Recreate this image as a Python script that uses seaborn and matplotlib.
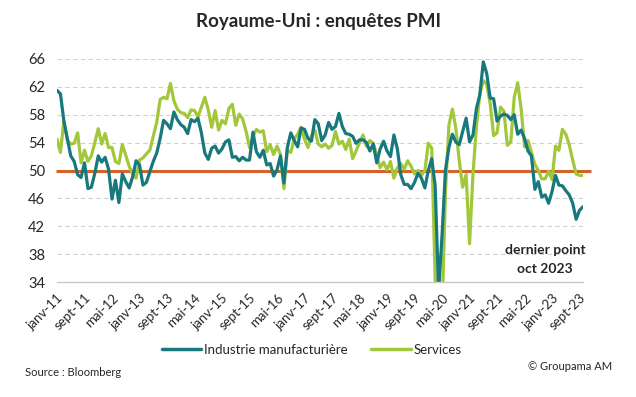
import numpy as np
import pandas as pd
import matplotlib
matplotlib.use("Agg")
import matplotlib.pyplot as plt
import seaborn as sns
from matplotlib.lines import Line2D

# ---- data (monthly, Jan 2011 - Oct 2023) ----
manufacturing = [
    # 2011
    61.5, 61.0, 57.1, 54.6, 52.1, 51.3, 49.4, 49.0, 51.1, 47.4, 47.6, 49.6,
    # 2012
    52.1, 51.2, 51.9, 50.2, 45.9, 48.6, 45.4, 49.5, 48.4, 47.5, 49.1, 51.4,
    # 2013
    50.8, 47.9, 48.3, 49.8, 51.3, 52.5, 54.6, 57.2, 56.7, 56.0, 58.4, 57.3,
    # 2014
    56.6, 56.2, 55.3, 57.3, 57.0, 57.5, 55.4, 52.5, 51.6, 53.2, 53.5, 52.5,
    # 2015
    53.1, 54.1, 54.4, 51.9, 52.0, 51.4, 51.9, 51.5, 51.5, 55.5, 52.7, 51.9,
    # 2016
    52.9, 50.8, 51.0, 49.2, 50.1, 52.1, 48.2, 53.3, 55.4, 54.3, 53.4, 56.1,
    # 2017
    55.9, 54.6, 54.2, 57.3, 56.7, 54.3, 55.1, 56.9, 55.9, 56.3, 58.2, 56.3,
    # 2018
    55.3, 55.2, 54.9, 53.9, 54.4, 54.4, 54.0, 52.8, 53.8, 51.1, 53.1, 54.2,
    # 2019
    52.8, 52.0, 55.1, 53.1, 49.4, 48.0, 48.0, 47.4, 48.3, 49.6, 48.9, 47.5,
    # 2020
    50.0, 51.7, 47.8, 32.6, 40.7, 50.1, 53.3, 55.2, 54.1, 53.7, 55.6, 57.5,
    # 2021
    54.1, 55.1, 58.9, 60.9, 65.6, 63.9, 60.4, 60.3, 57.1, 57.8, 58.1, 57.9,
    # 2022
    57.3, 58.0, 55.2, 55.8, 54.6, 52.8, 52.1, 47.3, 48.4, 46.2, 46.5, 45.3,
    # 2023
    47.0, 49.3, 47.9, 47.8, 47.1, 46.5, 45.3, 43.0, 44.3, 44.8,
]
services = [
    # 2011
    54.5, 52.6, 57.1, 54.3, 53.8, 53.9, 55.4, 51.1, 52.9, 51.3, 52.1, 54.0,
    # 2012
    56.0, 53.8, 55.3, 53.3, 53.3, 51.3, 51.0, 53.7, 52.2, 50.6, 49.5, 48.9,
    # 2013
    51.5, 51.8, 52.4, 52.9, 54.9, 56.9, 60.2, 60.5, 60.3, 62.5, 60.0, 58.8,
    # 2014
    58.3, 58.2, 57.6, 58.7, 58.6, 57.7, 59.1, 60.5, 58.7, 56.2, 58.6, 55.8,
    # 2015
    57.2, 56.7, 58.9, 59.5, 56.5, 58.1, 57.4, 55.6, 53.3, 54.9, 55.9, 55.5,
    # 2016
    55.7, 52.7, 53.7, 52.3, 53.5, 52.3, 47.4, 52.9, 52.6, 54.5, 55.2, 56.2,
    # 2017
    54.5, 53.3, 55.0, 55.8, 53.8, 53.4, 53.8, 53.2, 53.6, 55.6, 53.8, 54.2,
    # 2018
    53.0, 54.5, 51.7, 52.8, 54.0, 55.1, 53.5, 54.3, 53.9, 52.2, 50.4, 51.2,
    # 2019
    50.1, 51.3, 48.9, 50.4, 51.0, 50.2, 51.4, 50.6, 49.5, 50.0, 49.3, 50.0,
    # 2020
    53.9, 53.2, 34.5, 13.4, 29.0, 47.1, 56.5, 58.8, 56.1, 51.4, 47.6, 49.4,
    # 2021
    39.5, 49.5, 56.3, 61.0, 62.9, 62.4, 59.6, 55.0, 55.4, 59.1, 58.5, 53.6,
    # 2022
    54.1, 60.5, 62.6, 58.9, 53.4, 54.3, 52.6, 50.9, 50.0, 48.8, 48.8, 49.9,
    # 2023
    48.7, 53.5, 52.9, 55.9, 55.2, 53.7, 51.5, 49.5, 49.3, 49.3,
]
month_names = ["janv", "févr", "mars", "avr", "mai", "juin",
               "juil", "août", "sept", "oct", "nov", "déc"]
series_names = ["Industrie manufacturière", "Services"]
threshold = 50
y_ticks = [34, 38, 42, 46, 50, 54, 58, 62, 66]

n = len(manufacturing)
idx = np.arange(n)
labels = [f"{month_names[i % 12]}-{11 + i // 12:02d}" for i in idx]

df = pd.DataFrame({
    "t": np.concatenate([idx, idx]),
    "value": manufacturing + services,
    "serie": [series_names[0]] * n + [series_names[1]] * n,
})

sns.set_style("white")
plt.rcParams["font.family"] = ["Lato", "DejaVu Sans"]

teal = "#17797D"
green = "#A2C73B"
red = "#D4622A"
txt = "#262626"

fig = plt.figure(figsize=(6.36, 3.97), dpi=100)
ax = fig.add_axes([57 / 636, 1 - 282 / 397, (583 - 57) / 636, (282 - 59) / 397])

for yv in y_ticks[1:]:
    ax.axhline(yv, color="#D0D0D0", lw=0.8, ls=(0, (4, 3)), zorder=0)
ax.plot([-0.3, n + 1.2], [threshold, threshold], color=red, lw=2.2,
        zorder=1, clip_on=False, solid_capstyle="butt")

sns.lineplot(data=df, x="t", y="value", hue="serie",
             palette={series_names[0]: teal, series_names[1]: green},
             hue_order=series_names[::-1], lw=2.3, ax=ax, legend=False, zorder=2)

ax.set_xlim(0, n - 1)
ax.set_ylim(34, 66)
ax.set_yticks(y_ticks)
ax.set_yticklabels([str(v) for v in y_ticks], fontsize=10.5, color=txt)
tick_pos = idx[::8]
ax.set_xticks(tick_pos)
ax.set_xticklabels([labels[i] for i in tick_pos], rotation=45, ha="right",
                   rotation_mode="anchor", fontsize=9.5, color=txt)
ax.tick_params(axis="y", length=0, pad=8.5)
ax.tick_params(axis="x", length=0, pad=7)
ax.set_xlabel("")
ax.set_ylabel("")
for s in ["top", "right", "left"]:
    ax.spines[s].set_visible(False)
ax.spines["bottom"].set_color("#C8C8C8")
ax.spines["bottom"].set_linewidth(1.0)

fig.text(0.5, 1 - 22 / 397, "Royaume-Uni : enquêtes PMI", ha="center", va="center",
         fontsize=13.5, fontweight="bold", color=txt)

fig.text(545 / 636, 1 - 250 / 397, "dernier point",
         ha="center", va="center", fontsize=10, fontweight="bold", color=txt)
fig.text(545 / 636, 1 - 269 / 397, "oct 2023",
         ha="center", va="center", fontsize=10, fontweight="bold", color=txt)

handles = [Line2D([], [], color=teal, lw=2.5), Line2D([], [], color=green, lw=2.5)]
fig.legend(handles, series_names, loc="center", bbox_to_anchor=(0.49, 1 - 350 / 397),
           ncol=2, frameon=False, fontsize=9.5, handlelength=3.0, handletextpad=0.2,
           columnspacing=1.8, labelcolor=txt)

fig.text(25 / 636, 1 - 372 / 397, "Source : Bloomberg", ha="left", va="center",
         fontsize=8, color=txt)
fig.text(612 / 636, 1 - 367 / 397, "© Groupama AM", ha="right", va="center",
         fontsize=8, color=txt)

fig.savefig("out.png", dpi=100)
